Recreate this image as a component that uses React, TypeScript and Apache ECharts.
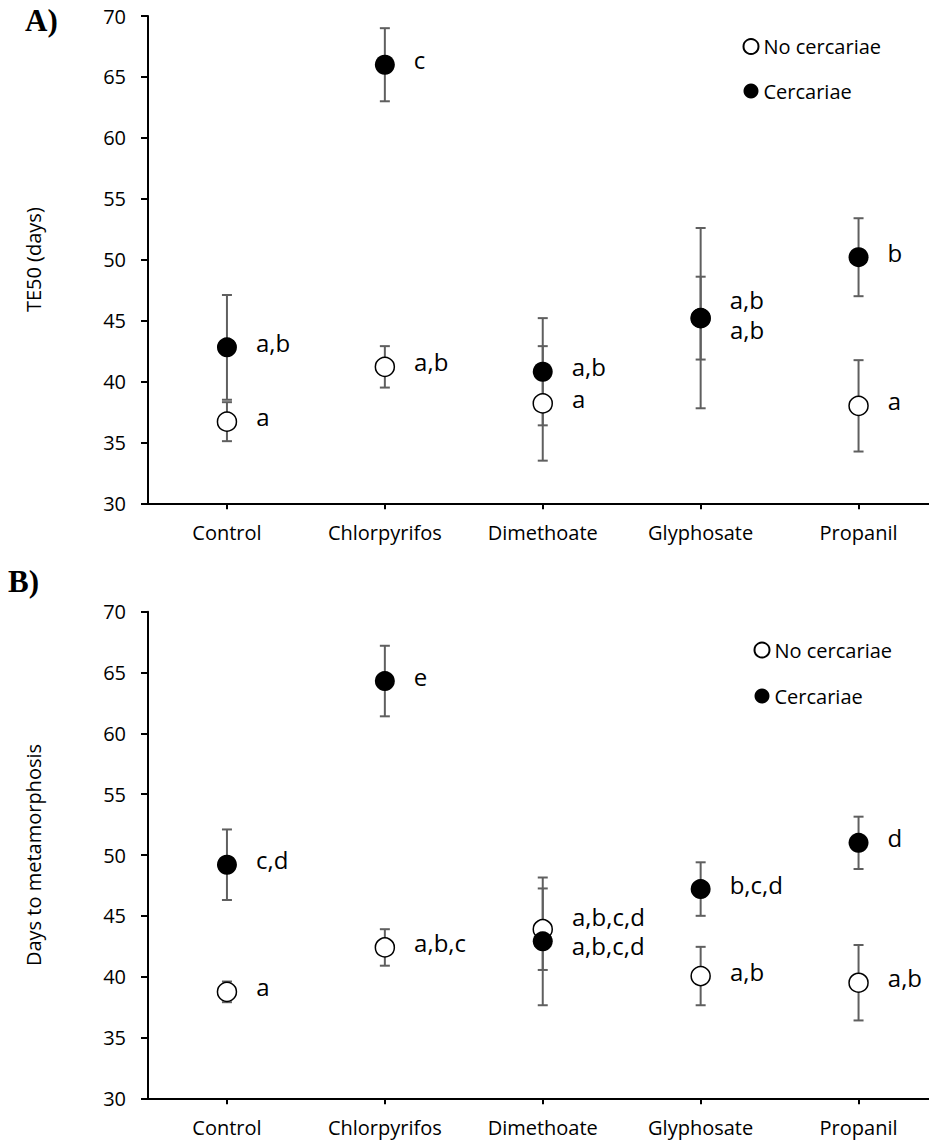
import React, { useEffect, useRef } from "react";
import * as echarts from "echarts";

const categories = ["Control", "Chlorpyrifos", "Dimethoate", "Glyphosate", "Propanil"];
const yTicksMin = 30;
const yTicksMax = 70;
const yTickStep = 5;

// Panel A: TE50 (days)
const teNoMean = [36.7, 41.2, 38.2, 45.2, 38.0];
const teNoErr = [1.6, 1.7, 4.7, 7.4, 3.75];
const teNoLetters = ["a", "a,b", "a", "a,b", "a"];
const teCerMean = [42.8, 66.0, 40.8, 45.2, 50.2];
const teCerErr = [4.3, 3.0, 4.4, 3.4, 3.2];
const teCerLetters = ["a,b", "c", "a,b", "a,b", "b"];

// Panel B: Days to metamorphosis
const metNoMean = [38.75, 42.4, 43.9, 40.05, 39.5];
const metNoErr = [0.85, 1.5, 3.35, 2.4, 3.1];
const metNoLetters = ["a", "a,b,c", "a,b,c,d", "a,b", "a,b"];
const metCerMean = [49.2, 64.3, 42.9, 47.2, 51.0];
const metCerErr = [2.9, 2.9, 5.25, 2.2, 2.15];
const metCerLetters = ["c,d", "e", "a,b,c,d", "b,c,d", "d"];

const seriesNames = ["No cercariae", "Cercariae"];
const panelTitles = ["A)", "B)"];
const axisNames = ["TE50 (days)", "Days to metamorphosis"];

const FONT = "Open Sans";
const ERR_COLOR = "#5f5f5f";

export default function App() {
  const ref = useRef<HTMLDivElement>(null);

  useEffect(() => {
    document.body.style.margin = "0";
    if (!ref.current) return;
    const chart = echarts.init(ref.current, undefined, { renderer: "svg" });

    const W = 929;
    const gridLeft = 148;
    const catStep = 157.9;
    const xMax = 0.5 + (W - gridLeft) / catStep;

    const panels = [
      {
        top: 16,
        height: 487.3,
        no: { mean: teNoMean, err: teNoErr, letters: teNoLetters },
        cer: { mean: teCerMean, err: teCerErr, letters: teCerLetters },
        noOff: [0, 0, 0, 16, 0],
        cerOff: [0, 0, 0, -14, 0],
        legend: { left: 742.5, top: 36.5, gap: 24.5 },
      },
      {
        top: 611.7,
        height: 486.6,
        no: { mean: metNoMean, err: metNoErr, letters: metNoLetters },
        cer: { mean: metCerMean, err: metCerErr, letters: metCerLetters },
        noOff: [0, 0, -8, 0, 0],
        cerOff: [0, 0, 9, 0, 0],
        legend: { left: 753.5, top: 640, gap: 26 },
      },
    ];

    const grids: any[] = [];
    const xAxes: any[] = [];
    const yAxes: any[] = [];
    const series: any[] = [];
    const legends: any[] = [];

    const renderErr = (params: any, api: any) => {
      const x = api.value(0);
      const lo = api.value(1);
      const hi = api.value(2);
      const pLo = api.coord([x, lo]);
      const pHi = api.coord([x, hi]);
      const w = 5;
      const style = { stroke: ERR_COLOR, lineWidth: 2 };
      return {
        type: "group",
        children: [
          { type: "line", shape: { x1: pLo[0], y1: pLo[1], x2: pHi[0], y2: pHi[1] }, style },
          { type: "line", shape: { x1: pLo[0] - w, y1: pLo[1], x2: pLo[0] + w, y2: pLo[1] }, style },
          { type: "line", shape: { x1: pHi[0] - w, y1: pHi[1], x2: pHi[0] + w, y2: pHi[1] }, style },
        ],
      };
    };

    panels.forEach((p, i) => {
      grids.push({ left: gridLeft, right: 0, top: p.top, height: p.height, containLabel: false });
      xAxes.push({
        type: "value",
        gridIndex: i,
        min: 0.5,
        max: xMax,
        splitLine: { show: false },
        axisLine: { show: true, onZero: false, lineStyle: { color: "#000", width: 2 } },
        axisTick: {
          show: true,
          customValues: [1, 2, 3, 4, 5],
          length: 6,
          inside: false,
          lineStyle: { color: "#000", width: 2 },
        },
        axisLabel: {
          show: true,
          customValues: [1, 2, 3, 4, 5],
          formatter: (v: number) => categories[Math.round(v) - 1] ?? "",
          color: "#000",
          fontFamily: FONT,
          fontSize: 20,
          margin: 19,
        },
      });
      yAxes.push({
        type: "value",
        gridIndex: i,
        min: yTicksMin,
        max: yTicksMax,
        interval: yTickStep,
        name: axisNames[i],
        nameLocation: "middle",
        nameGap: 105,
        nameTextStyle: { color: "#000", fontFamily: FONT, fontSize: 20 },
        splitLine: { show: false },
        axisLine: { show: true, lineStyle: { color: "#000", width: 2 } },
        axisTick: { show: true, length: 7, lineStyle: { color: "#000", width: 2 } },
        axisLabel: { color: "#000", fontFamily: FONT, fontSize: 20, margin: 22 },
      });

      const groups = [
        { name: seriesNames[0], d: p.no, off: p.noOff, filled: false },
        { name: seriesNames[1], d: p.cer, off: p.cerOff, filled: true },
      ];

      groups.forEach((g) => {
        series.push({
          type: "custom",
          name: g.name + " error",
          xAxisIndex: i,
          yAxisIndex: i,
          renderItem: renderErr,
          encode: { x: 0, y: [1, 2] },
          data: g.d.mean.map((m, k) => [k + 1, m - g.d.err[k], m + g.d.err[k]]),
          z: 1,
          silent: true,
        });
      });

      groups.forEach((g, gi) => {
        series.push({
          type: "scatter",
          name: g.name,
          xAxisIndex: i,
          yAxisIndex: i,
          symbol: "circle",
          symbolSize: g.filled ? 20 : 19,
          itemStyle: g.filled
            ? { color: "#000", borderColor: "#000", borderWidth: 0, opacity: 1 }
            : { color: "#fff", borderColor: "#000", borderWidth: 1.5, opacity: 1 },
          z: 3 + gi,
          data: g.d.mean.map((m, k) => ({
            value: [k + 1, m],
            label: {
              show: true,
              position: "right",
              distance: 19,
              offset: [0, -5 + g.off[k]],
              formatter: g.d.letters[k],
              color: "#000",
              fontFamily: FONT,
              fontSize: 24,
              lineHeight: 26,
            },
          })),
        });
      });

      legends.push({
        show: true,
        orient: "vertical",
        left: p.legend.left,
        top: p.legend.top,
        itemGap: p.legend.gap,
        itemWidth: 15,
        itemHeight: 15,
        padding: 0,
        selectedMode: false,
        icon: "circle",
        data: seriesNames,
        textStyle: { color: "#000", fontFamily: FONT, fontSize: 20 },
      });
    });

    chart.setOption({
      animation: false,
      backgroundColor: "#fff",
      grid: grids,
      xAxis: xAxes,
      yAxis: yAxes,
      series,
      legend: legends,
      graphic: [
        {
          type: "text",
          left: 25,
          top: 5,
          style: {
            text: panelTitles[0],
            fill: "#000",
            font: "bold 31px 'Liberation Serif', 'Times New Roman', serif",
          },
        },
        {
          type: "text",
          left: 8,
          top: 566,
          style: {
            text: panelTitles[1],
            fill: "#000",
            font: "bold 31px 'Liberation Serif', 'Times New Roman', serif",
          },
        },
      ],
    });

    return () => chart.dispose();
  }, []);

  return (
    <div
      ref={ref}
      style={{ width: 929, height: 1143, position: "absolute", left: 0, top: 0 }}
    />
  );
}
